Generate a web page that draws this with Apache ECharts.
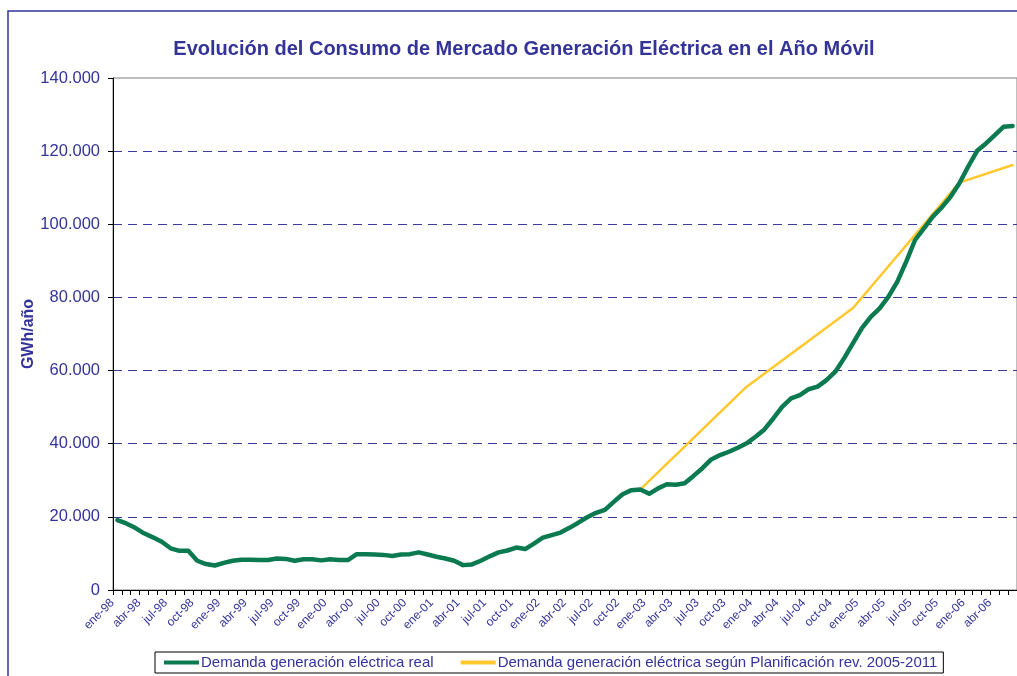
<!DOCTYPE html>
<html>
<head>
<meta charset="utf-8">
<script src="https://cdn.jsdelivr.net/npm/echarts@6/dist/echarts.min.js"></script>
<style>
html,body{margin:0;padding:0;background:#fff;}
#chart{width:1017px;height:676px;}
</style>
</head>
<body>
<div id="chart"></div>
<script>
// Month abbreviations and years used for category labels (ene-98 ... jun-06)
const monthNames = ['ene','feb','mar','abr','may','jun','jul','ago','sep','oct','nov','dic'];
const yearLabels = ['98','99','00','01','02','03','04','05','06'];
const lastYearMonths = 6; // ene-06 .. jun-06

const categories = [];
yearLabels.forEach((y, yi) => {
  const n = (yi === yearLabels.length - 1) ? lastYearMonths : 12;
  for (let m = 0; m < n; m++) categories.push(monthNames[m] + '-' + y);
});

// Demanda generación eléctrica real (thousand GWh/año), monthly from ene-98
const realValues = [
  19.1, 18.2, 17.0, 15.5, 14.4, 13.2, 11.4, 10.7, 10.7, 8.0, 7.1, 6.7,
  7.4, 8.0, 8.3, 8.3, 8.2, 8.2, 8.6, 8.5, 8.0, 8.4, 8.4, 8.1,
  8.4, 8.2, 8.2, 9.8, 9.8, 9.7, 9.6, 9.3, 9.7, 9.8, 10.3, 9.7,
  9.1, 8.6, 8.0, 6.8, 7.0, 8.0, 9.2, 10.3, 10.8, 11.6, 11.2, 12.7,
  14.3, 15.0, 15.7, 17.0, 18.4, 19.9, 21.1, 21.9, 24.1, 26.2, 27.3, 27.5,
  26.3, 27.8, 28.9, 28.8, 29.2, 31.2, 33.3, 35.7, 36.9, 37.8, 38.9, 40.1,
  41.9, 43.9, 46.9, 50.1, 52.4, 53.3, 54.9, 55.6, 57.4, 59.7, 63.4, 67.5,
  71.6, 74.7, 77.0, 80.2, 84.3, 89.8, 95.7, 98.9, 102.1, 104.6, 107.5, 111.2,
  115.8, 120.1, 122.1, 124.4, 126.7, 126.9
].map(v => Math.round(v * 1000));

// Demanda según Planificación rev. 2005-2011 (known points; straight segments between)
const planPoints = [
  ['dic-02', 27500],
  ['dic-03', 55600],
  ['dic-04', 77100],
  ['dic-05', 111400],
  ['jun-06', 116200]
];

const yTicks = {min: 0, max: 140000, interval: 20000};
const seriesNames = ['Demanda generación eléctrica real', 'Demanda generación eléctrica según Planificación rev. 2005-2011'];
const titleText = 'Evolución del Consumo de Mercado Generación Eléctrica en el Año Móvil';

const planValues = categories.map(c => {
  const p = planPoints.find(pp => pp[0] === c);
  return p ? p[1] : null;
});

const blue = '#333399';
const font = 'Liberation Sans, Arial, sans-serif';
const chart = echarts.init(document.getElementById('chart'), null, {renderer: 'canvas'});
chart.setOption({
  animation: false,
  backgroundColor: '#ffffff',
  textStyle: {fontFamily: font},
  graphic: [{
    type: 'rect',
    shape: {x: 8, y: 11, width: 1200, height: 800},
    style: {fill: 'none', stroke: blue, lineWidth: 1.5},
    silent: true, z: -10
  }],
  title: {
    text: titleText,
    left: 519, top: 34, textAlign: 'center',
    textStyle: {color: blue, fontSize: 20, fontWeight: 'bold', fontFamily: font}
  },
  legend: {
    left: 155, top: 652,
    data: seriesNames,
    icon: 'rect', itemWidth: 35, itemHeight: 4, itemGap: 27,
    padding: [3, 6, 3, 9],
    borderColor: '#000', borderWidth: 1,
    textStyle: {color: blue, fontSize: 15, fontFamily: font, padding: [0, 0, 0, -3]}
  },
  grid: {
    left: 113, top: 78, bottom: 86, width: 905,
    show: true, borderColor: '#808080', borderWidth: 1, containLabel: false
  },
  xAxis: {
    type: 'category',
    data: categories,
    boundaryGap: true,
    axisLine: {lineStyle: {color: '#000', width: 1}},
    axisTick: {show: true, interval: 0, length: 5, lineStyle: {color: '#000'}},
    axisLabel: {
      interval: 2, rotate: 45, color: blue, fontSize: 12, margin: 6,
      padding: [0, 7, 0, 0],
      fontFamily: font
    },
    splitLine: {show: false}
  },
  yAxis: {
    type: 'value',
    min: yTicks.min, max: yTicks.max, interval: yTicks.interval,
    name: 'GWh/año', nameLocation: 'middle', nameGap: 76, nameRotate: 90,
    nameMoveOverlap: false,
    nameTextStyle: {color: blue, fontSize: 16, fontWeight: 'bold', fontFamily: font},
    axisLine: {show: true, lineStyle: {color: '#000', width: 1}},
    axisTick: {show: true, length: 5, lineStyle: {color: '#000'}},
    axisLabel: {
      color: blue, fontSize: 16.5, margin: 13,
      fontFamily: font,
      formatter: v => v === 0 ? '0' : String(v).replace(/\B(?=(\d{3})+(?!\d))/g, '.')
    },
    splitLine: {
      show: true, showMinLine: false, showMaxLine: false,
      lineStyle: {color: '#3b3b9f', type: [9, 6], width: 1}
    }
  },
  series: [
    {
      name: seriesNames[0], type: 'line', data: realValues,
      symbol: 'none', smooth: false,
      lineStyle: {color: '#0b7a50', width: 4.5, cap: 'round', join: 'round'},
      itemStyle: {color: '#0b7a50'}, z: 3
    },
    {
      name: seriesNames[1], type: 'line', data: planValues,
      symbol: 'none', connectNulls: true,
      lineStyle: {color: '#ffc82e', width: 2.5, cap: 'round', join: 'round'},
      itemStyle: {color: '#ffc82e'}, z: 2
    }
  ]
});
</script>
</body>
</html>
